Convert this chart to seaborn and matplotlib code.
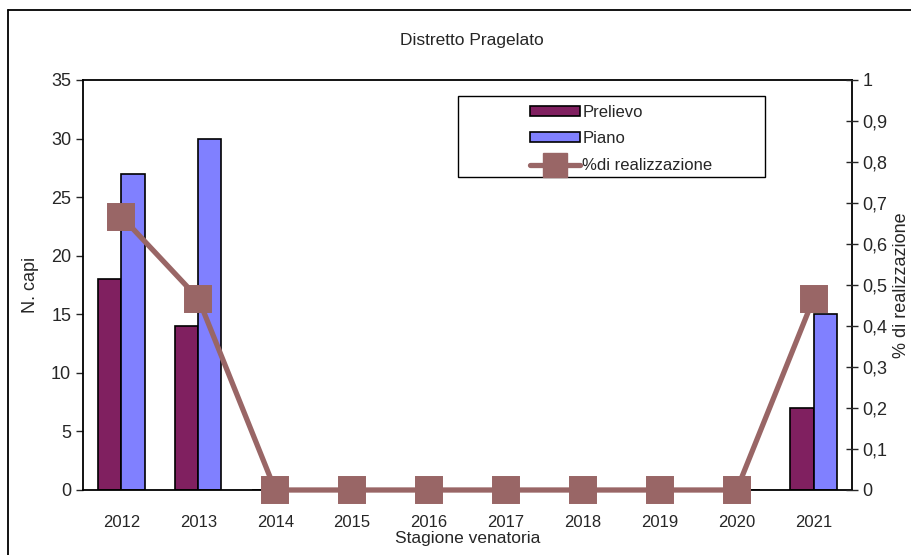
import matplotlib
matplotlib.use("Agg")
import matplotlib.pyplot as plt
from matplotlib.lines import Line2D
from matplotlib.patches import Rectangle, Patch
from matplotlib.ticker import FuncFormatter
import pandas as pd
import seaborn as sns

seasons = ["2012", "2013", "2014", "2015", "2016", "2017", "2018", "2019", "2020", "2021"]
prelievo = [18, 14, 0, 0, 0, 0, 0, 0, 0, 7]
piano = [27, 30, 0, 0, 0, 0, 0, 0, 0, 15]
realizzazione = [0.667, 0.467, 0, 0, 0, 0, 0, 0, 0, 0.467]

col_prelievo = "#802060"
col_piano = "#8080FF"
col_line = "#996666"

sns.set_style("white")
plt.rcParams["font.family"] = ["Liberation Sans", "DejaVu Sans"]

bars = pd.DataFrame({
    "Stagione": seasons * 2,
    "capi": prelievo + piano,
    "serie": ["Prelievo"] * len(seasons) + ["Piano"] * len(seasons),
})

fig = plt.figure(figsize=(9.12, 5.55), dpi=100)
ax = fig.add_axes([83 / 912, 1 - 490 / 555, (852 - 83) / 912, (490 - 80) / 555])

sns.barplot(data=bars, x="Stagione", y="capi", hue="serie",
            palette=[col_prelievo, col_piano], width=0.6, gap=0,
            edgecolor="black", linewidth=1.2, saturation=1, ax=ax, legend=False)
ax.set_ylim(0, 35)
ax.set_yticks(range(0, 36, 5))
ax.set_xlim(-0.5, len(seasons) - 0.5)
ax.set_xticks([i + 0.5 for i in range(-1, len(seasons))], minor=True)
ax.tick_params(axis="x", which="major", length=0, labelsize=12, pad=18)
ax.tick_params(axis="x", which="minor", length=6, direction="inout", width=1)
ax.tick_params(axis="y", length=5, direction="out", width=1, labelsize=13, left=True)
ax.set_xlabel("Stagione venatoria", fontsize=12.5, labelpad=1)
ax.set_ylabel("N. capi", fontsize=13, labelpad=9)
for s in ax.spines.values():
    s.set_color("black")
    s.set_linewidth(1.3)

ax2 = ax.twinx()
sns.pointplot(x=seasons, y=realizzazione, color=col_line, markers="s",
              markersize=17, linewidth=3.8, ax=ax2)
ax2.set_ylim(0, 1)
ax2.set_yticks([i / 10 for i in range(11)])
ax2.yaxis.set_major_formatter(FuncFormatter(lambda v, p: f"{v:g}".replace(".", ",")))
ax2.tick_params(axis="y", length=8, direction="inout", width=1, labelsize=13, right=True)
ax2.set_ylabel("% di realizzazione", fontsize=13, labelpad=4)
for c in ax2.collections + ax2.lines:
    c.set_clip_on(False)
for s in ax2.spines.values():
    s.set_visible(False)

fig.text(472 / 912, 1 - 40 / 555, "Distretto Pragelato", ha="center", va="center", fontsize=12.5)

# legend frame and entries
fig.add_artist(Rectangle((458 / 912, 1 - 177 / 555), 307 / 912, 81 / 555,
                         transform=fig.transFigure, fill=False, edgecolor="black", linewidth=1))
handles = [
    Patch(facecolor=col_prelievo, edgecolor="black", linewidth=1.2),
    Patch(facecolor=col_piano, edgecolor="black", linewidth=1.2),
    Line2D([], [], color=col_line, linewidth=3.8, marker="s", markersize=17),
]
fig.legend(handles, ["Prelievo", "Piano", "%di realizzazione"], frameon=False,
           loc="upper left", bbox_to_anchor=(518 / 912, 1 - 93 / 555),
           fontsize=12, handlelength=3.0, handleheight=0.55, handletextpad=0.15,
           labelspacing=0.7, borderpad=0.2)

# outer chart border
fig.add_artist(Line2D([8 / 912, 8 / 912], [0, 1 - 10 / 555], color="black", linewidth=1.3,
                      transform=fig.transFigure))
fig.add_artist(Line2D([8 / 912, 1], [1 - 10 / 555, 1 - 10 / 555], color="black", linewidth=1.3,
                      transform=fig.transFigure))

fig.savefig("out.png", dpi=100)
